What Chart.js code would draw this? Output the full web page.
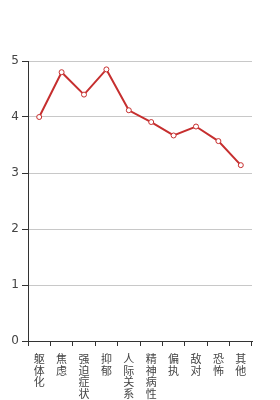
<!DOCTYPE html>
<html lang="zh">
<head>
<meta charset="UTF-8">
<title>Scores</title>
<script src="https://cdn.jsdelivr.net/npm/chart.js@4.4.2/dist/chart.umd.min.js"></script>
<style>
    html, body { margin: 0; padding: 0; background: #fff; overflow: hidden; }
    .wrap { width: 280px; height: 400px; position: relative; }
</style>
</head>
<body>
<div class="wrap"><canvas id="chart"></canvas></div>
<script>
    const categories = ['躯体化', '焦虑', '强迫症状', '抑郁', '人际关系', '精神病性', '偏执', '敌对', '恐怖', '其他'];
    const scores = [4.0, 4.8, 4.4, 4.85, 4.12, 3.91, 3.67, 3.83, 3.57, 3.14];
    const yTicks = [0, 1, 2, 3, 4, 5];

    // vertical labels: one character per line
    const verticalLabels = categories.map(c => c.split(''));

    const ctx = document.getElementById('chart').getContext('2d');
    new Chart(ctx, {
        type: 'line',
        data: {
            labels: verticalLabels,
            datasets: [{
                data: scores,
                borderColor: '#c62f2f',
                borderWidth: 2,
                pointRadius: 2.5,
                pointBorderWidth: 1,
                pointBackgroundColor: '#fff',
                pointBorderColor: '#c62f2f',
                tension: 0
            }]
        },
        options: {
            responsive: true,
            maintainAspectRatio: false,
            animation: false,
            layout: { padding: { top: 61, right: 28, left: 0, bottom: 0 } },
            plugins: { legend: { display: false }, tooltip: { enabled: false } },
            scales: {
                x: {
                    offset: true,
                    grid: { offset: true, drawOnChartArea: false, color: '#333', tickLength: 5 },
                    border: { color: '#333', width: 1 },
                    ticks: {
                        maxRotation: 0, autoSkip: false, color: '#444', padding: 7,
                        font: { family: '"Noto Sans CJK SC"', size: 11, lineHeight: 1.05 }
                    },
                    afterFit: s => { s.height = 59; }
                },
                y: {
                    min: 0, max: 5,
                    afterBuildTicks: s => { s.ticks = yTicks.map(v => ({ value: v })); },
                    grid: { color: '#c8c8c8', tickColor: '#333', tickLength: 6 },
                    border: { color: '#333', width: 1 },
                    ticks: { color: '#444', padding: 3, font: { family: 'DejaVu Sans', size: 12 } },
                    afterFit: s => { s.width = 28; }
                }
            }
        }
    });
</script>
</body>
</html>
